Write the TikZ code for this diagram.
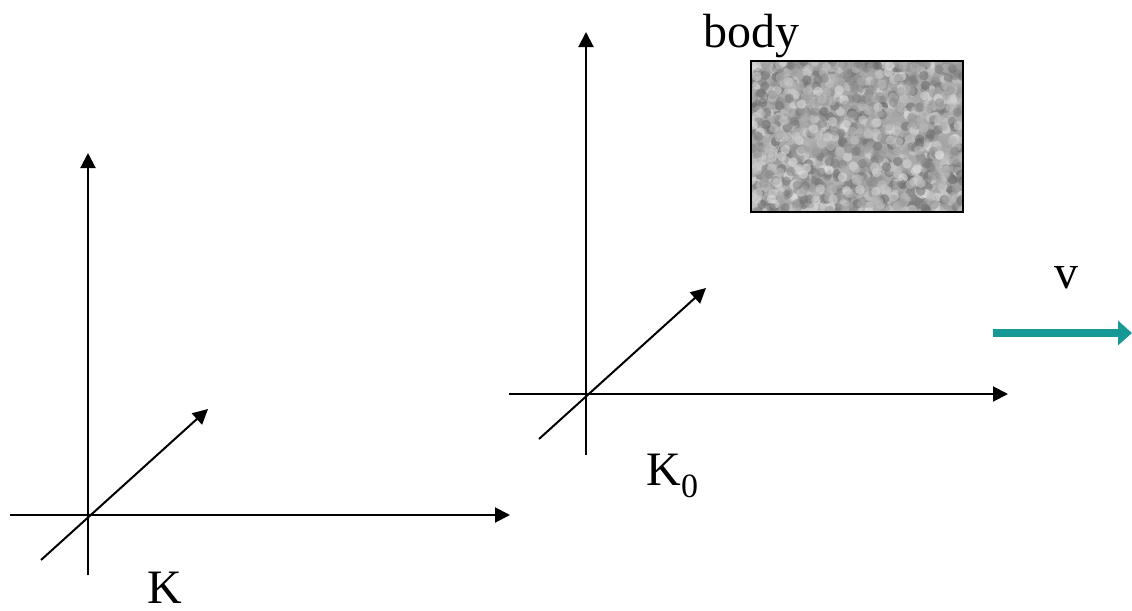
\documentclass[tikz,border=0pt]{standalone}
\usepackage{fontspec}
\setmainfont{Liberation Serif}
\usepackage{xcolor}
\usepackage{tikz}
\usetikzlibrary{arrows.meta, positioning}
\definecolor{velteal}{HTML}{179A96}
\definecolor{bodygray}{HTML}{A8A8A8}
\tikzset{
  axis/.style={-{Triangle[length=7.5pt, width=7.5pt]}, line width=1pt},
  lbl/.style={font=\fontsize{24}{28}\selectfont, inner sep=0pt},
  vel/.style={-{Triangle[length=7pt, width=12pt]}, line width=4.2pt, velteal},
}

\begin{document}
\begin{tikzpicture}[x=0.5pt, y=-0.5pt]
\useasboundingbox (0,0) rectangle (1132,611);

% ---- K ----
\coordinate (ko) at (88,515);
\coordinate (kxs) at (10,515);
\coordinate (kxe) at (510,515);
\coordinate (kys) at (88,575);
\coordinate (kye) at (88,153);
\coordinate (kzs) at (41,560);
\coordinate (kze) at (208,409);
\draw[axis] (kxs) -- (kxe);
\draw[axis] (kys) -- (kye);
\draw[axis] (kzs) -- (kze);
\node[lbl, anchor=base] (klbl) at (165,603) {K};

% ---- K0 ----
\coordinate (koo) at (586,394);
\coordinate (koxs) at (509,394);
\coordinate (koxe) at (1008,394);
\coordinate (koys) at (586,455);
\coordinate (koye) at (586,32);
\coordinate (kozs) at (539,439);
\coordinate (koze) at (706,288);
\draw[axis] (koxs) -- (koxe);
\draw[axis] (koys) -- (koye);
\draw[axis] (kozs) -- (koze);
\node[lbl, anchor=base west] (kolbl) at (646,485)
  {K\raisebox{-6pt}{\fontsize{17}{20}\selectfont 0}};

% ---- body ----
\node[draw=none, fill=bodygray, minimum width=106pt, minimum height=75.5pt,
  inner sep=0pt] (body) at (857,136.5) {};
\begin{scope}
  \clip (body.south west) rectangle (body.north east);
  \pgfmathsetseed{17}
  \foreach \i in {1,...,1400}{
    \pgfmathsetmacro{\px}{751+212*rnd}
    \pgfmathsetmacro{\py}{61+151*rnd}
    \pgfmathsetmacro{\sh}{10+50*rnd}
    \fill[black!\sh, opacity=0.55] (\px,\py) circle (2.4pt);
  }
\end{scope}
\draw[line width=1pt] (body.south west) rectangle (body.north east);
\node[lbl, anchor=base] (bodylbl) at (751,47) {body};

% ---- velocity ----
\coordinate (vs) at (993,333);
\coordinate (ve) at (1132,333);
\draw[vel] (vs) -- (ve);
\node[lbl, anchor=base] (vlbl) at (1066,288) {v};

\end{tikzpicture}
\end{document}
